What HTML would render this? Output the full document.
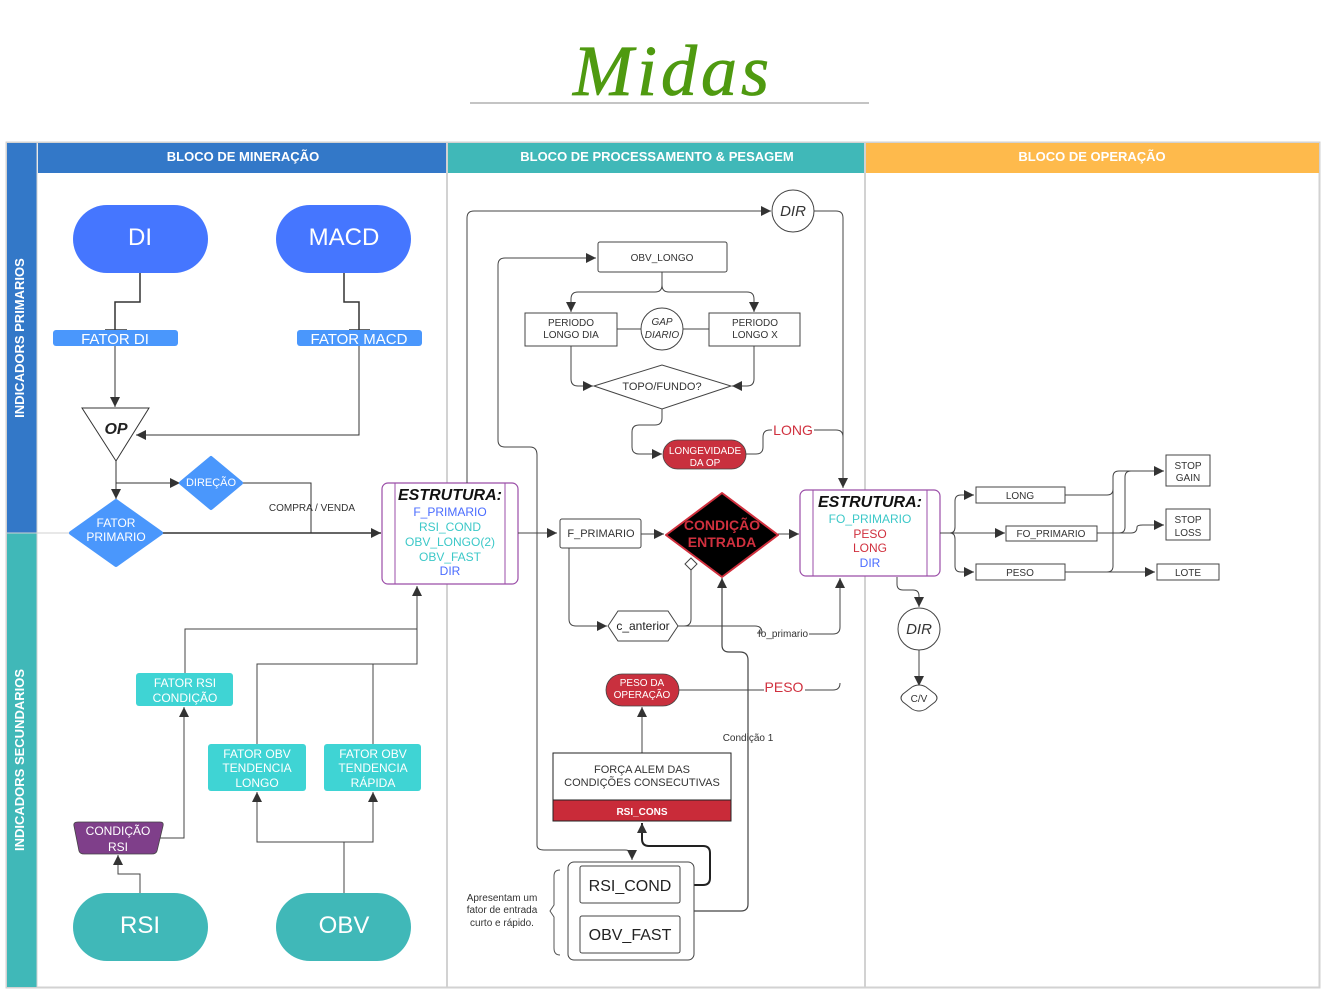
<!DOCTYPE html>
<html><head><meta charset="utf-8"><style>
html,body{margin:0;padding:0;background:#fff;}
svg{display:block;font-family:"Liberation Sans",sans-serif;}
</style></head><body>
<svg width="1327" height="996" viewBox="0 0 1327 996" xmlns="http://www.w3.org/2000/svg">
<defs>
<marker id="b" viewBox="0 0 10 10" refX="10" refY="5" markerWidth="12" markerHeight="10" orient="auto" markerUnits="userSpaceOnUse"><path d="M0,0L10,5L0,10z" fill="#333"/></marker>
</defs>
<!-- title -->
<text x="673" y="95" text-anchor="middle" font-family="Liberation Serif,serif" font-style="italic" font-size="72" fill="#4f9a10" stroke="#4f9a10" stroke-width="0.8" letter-spacing="4">Midas</text>
<line x1="470" y1="103" x2="869" y2="103" stroke="#c4c4c4" stroke-width="2"/>
<!-- frame -->
<rect x="6.5" y="142.5" width="1313" height="845" fill="#fff" stroke="#d2d2d2" stroke-width="2"/>
<rect x="7" y="143" width="30" height="390" fill="#3378c8"/>
<rect x="7" y="533" width="30" height="454" fill="#40b8b8"/>
<rect x="38" y="143" width="409" height="30" fill="#3378c8"/>
<rect x="448" y="143" width="417" height="30" fill="#40b8b8"/>
<rect x="866" y="143" width="453" height="30" fill="#feba4c"/>
<line x1="447" y1="143" x2="447" y2="987" stroke="#d2d2d2" stroke-width="2"/>
<line x1="865" y1="143" x2="865" y2="987" stroke="#d2d2d2" stroke-width="2"/>
<line x1="37" y1="143" x2="37" y2="987" stroke="#d2d2d2" stroke-width="1"/>
<line x1="7" y1="533" x2="200" y2="533" stroke="#d2d2d2" stroke-width="1"/>
<g font-weight="bold" font-size="13" fill="#fff" text-anchor="middle">
<text x="243" y="161">BLOCO DE MINERAÇÃO</text>
<text x="657" y="161">BLOCO DE PROCESSAMENTO &amp; PESAGEM</text>
<text x="1092" y="161">BLOCO DE OPERAÇÃO</text>
<text transform="translate(24,338) rotate(-90)">INDICADORS PRIMARIOS</text>
<text transform="translate(24,760) rotate(-90)">INDICADORS SECUNDARIOS</text>
</g>
<!-- left column -->
<g fill="none" stroke="#333" stroke-width="1.5">
<path d="M140,273V302H115V330M105,330H127"/>
<path d="M344,273V302H359V330M349,330H370"/>
</g>
<rect x="73" y="205" width="135" height="68" rx="34" fill="#4576ff"/>
<rect x="276" y="205" width="135" height="68" rx="34" fill="#4576ff"/>
<text x="140" y="245" text-anchor="middle" font-size="24" fill="#fff">DI</text>
<text x="344" y="245" text-anchor="middle" font-size="24" fill="#fff">MACD</text>
<rect x="53" y="330" width="125" height="16" rx="3" fill="#4a97fc"/>
<rect x="297" y="330" width="125" height="16" rx="3" fill="#4a97fc"/>
<text x="115" y="344" text-anchor="middle" font-size="15" fill="#fff">FATOR DI</text>
<text x="359" y="344" text-anchor="middle" font-size="15" fill="#fff">FATOR MACD</text>
<g fill="none" stroke="#333" stroke-width="1">
<path d="M115,346V407" marker-end="url(#b)"/>
<path d="M359,346V435H136" marker-end="url(#b)"/>
<path d="M116,461V499" marker-end="url(#b)"/>
<path d="M116,483H180" marker-end="url(#b)"/>
<path d="M241,483H311V533"/>
<path d="M162,533H381" marker-end="url(#b)" stroke-width="1.5"/>
</g>
<polygon points="82,408 149,408 116,461" fill="#fff" stroke="#333" stroke-width="1"/>
<text x="116" y="434" text-anchor="middle" font-size="16" font-weight="bold" font-style="italic" fill="#222">OP</text>
<polygon points="211,458 241,483 211,508 181,483" fill="#4a97fc" stroke="#4a97fc" stroke-linejoin="round" stroke-width="4"/>
<text x="211" y="486" text-anchor="middle" font-size="11" fill="#fff">DIREÇÃO</text>
<polygon points="116,501 161,533 116,565 71,533" fill="#4a97fc" stroke="#4a97fc" stroke-linejoin="round" stroke-width="4"/>
<text x="116" y="527" text-anchor="middle" font-size="12" fill="#fff">FATOR</text>
<text x="116" y="541" text-anchor="middle" font-size="12" fill="#fff">PRIMARIO</text>
<text x="312" y="511" text-anchor="middle" font-size="10" fill="#333">COMPRA / VENDA</text>
<!-- estrutura 1 -->
<rect x="382" y="483" width="136" height="101" rx="6" fill="#fff" stroke="#9b4ea8" stroke-width="1.2"/>
<line x1="395" y1="483" x2="395" y2="584" stroke="#9b4ea8"/>
<line x1="505" y1="483" x2="505" y2="584" stroke="#9b4ea8"/>
<text x="450" y="500" text-anchor="middle" font-size="16" font-weight="bold" font-style="italic" fill="#111">ESTRUTURA:</text>
<g font-size="12" text-anchor="middle">
<text x="450" y="516" fill="#4a6cff">F_PRIMARIO</text>
<text x="450" y="531" fill="#3cc8c8">RSI_COND</text>
<text x="450" y="546" fill="#3cc8c8">OBV_LONGO(2)</text>
<text x="450" y="561" fill="#3cc8c8">OBV_FAST</text>
<text x="450" y="575" fill="#4a6cff">DIR</text>
</g>
<!-- secondary -->
<g fill="none" stroke="#444" stroke-width="1">
<path d="M185,673V629H417V664M257,744V664H417V586" marker-end="url(#b)"/>
<path d="M373,744V664"/>
<path d="M160,838H184V707" marker-end="url(#b)"/>
<path d="M140,893V874H118V855" marker-end="url(#b)"/>
<path d="M344,893V842H257V792" marker-end="url(#b)"/>
<path d="M344,842H373V792" marker-end="url(#b)"/>
</g>
<rect x="136" y="673" width="97" height="33" rx="3" fill="#3fd4d4"/>
<text x="185" y="687" text-anchor="middle" font-size="12" fill="#fff">FATOR RSI</text>
<text x="185" y="702" text-anchor="middle" font-size="12" fill="#fff">CONDIÇÃO</text>
<rect x="208" y="744" width="98" height="47" rx="3" fill="#3fd4d4"/>
<rect x="324" y="744" width="97" height="47" rx="3" fill="#3fd4d4"/>
<g font-size="12" fill="#fff" text-anchor="middle">
<text x="257" y="758">FATOR OBV</text><text x="257" y="772">TENDENCIA</text><text x="257" y="787">LONGO</text>
<text x="373" y="758">FATOR OBV</text><text x="373" y="772">TENDENCIA</text><text x="373" y="787">RÁPIDA</text>
</g>
<path d="M78,822H160Q164,822 163,826L157,851Q156,854 152,854H84Q80,854 79,851L74,826Q73,822 78,822Z" fill="#7f3f8a" stroke="#444" stroke-width="0.8"/>
<text x="118" y="835" text-anchor="middle" font-size="12" fill="#fff">CONDIÇÃO</text>
<text x="118" y="851" text-anchor="middle" font-size="12" fill="#fff">RSI</text>
<rect x="73" y="893" width="135" height="68" rx="34" fill="#40b8b8"/>
<rect x="276" y="893" width="135" height="68" rx="34" fill="#40b8b8"/>
<text x="140" y="933" text-anchor="middle" font-size="24" fill="#fff">RSI</text>
<text x="344" y="933" text-anchor="middle" font-size="24" fill="#fff">OBV</text>
<!-- middle connectors -->
<g fill="none" stroke="#444" stroke-width="1">
<path d="M467,483V218Q467,211 474,211H771" marker-end="url(#b)"/>
<path d="M814,211H836Q843,211 843,218V488" marker-end="url(#b)"/>
<path d="M537,845V455Q537,447 530,447H505Q498,447 498,440V265Q498,258 505,258H596" marker-end="url(#b)"/>
<path d="M518,533H557" marker-end="url(#b)"/>
<path d="M537,845Q537,850 544,850H625Q632,850 632,857V860" marker-end="url(#b)"/>
<path d="M662,272V285Q662,292 655,292H578Q571,292 571,299V312" marker-end="url(#b)"/>
<path d="M662,285Q662,292 669,292H747Q754,292 754,299V312" marker-end="url(#b)"/>
<path d="M617,329H641M683,329H709"/>
<path d="M571,346V379Q571,386 578,386H593" marker-end="url(#b)"/>
<path d="M754,346V379Q754,386 747,386H732" marker-end="url(#b)"/>
<path d="M662,409V418Q662,425 655,425H639Q632,425 632,432V447Q632,454 639,454H662" marker-end="url(#b)"/>
<path d="M746,454H756Q763,454 763,447V437Q763,430 770,430H772M814,430H836Q843,430 843,437"/>
<path d="M641,534H664" marker-end="url(#b)"/>
<path d="M778,534H799" marker-end="url(#b)"/>
<path d="M569,548V619Q569,626 576,626H607" marker-end="url(#b)"/>
<path d="M691,570V619Q691,626 684,626H678"/>
<path d="M678,626H755Q762,626 762,633H757M809,634H833Q840,634 840,627V578" marker-end="url(#b)"/>
<path d="M679,690H764M805,690H833Q840,690 840,683"/>
<path d="M694,911H741Q748,911 748,904V660Q748,652 740,652H729Q722,652 722,645V578" marker-end="url(#b)" stroke-width="1.2"/>
<path d="M642,753V707" marker-end="url(#b)"/>
<path d="M680,885H703Q710,885 710,878V853Q710,846 703,846H649Q642,846 642,839V823" marker-end="url(#b)" stroke="#222" stroke-width="2"/>
</g>
<circle cx="793" cy="211" r="21" fill="#fff" stroke="#444"/>
<text x="793" y="216" text-anchor="middle" font-size="15" font-style="italic" fill="#333">DIR</text>
<rect x="598" y="242" width="129" height="30" rx="2" fill="#fff" stroke="#444"/>
<text x="662" y="261" text-anchor="middle" font-size="10" fill="#333">OBV_LONGO</text>
<rect x="525" y="313" width="92" height="33" fill="#fff" stroke="#444"/>
<rect x="709" y="313" width="91" height="33" fill="#fff" stroke="#444"/>
<g font-size="10" fill="#333" text-anchor="middle">
<text x="571" y="326">PERIODO</text><text x="571" y="338">LONGO DIA</text>
<text x="755" y="326">PERIODO</text><text x="755" y="338">LONGO X</text>
</g>
<circle cx="662" cy="329" r="21" fill="#fff" stroke="#444"/>
<text x="662" y="325" text-anchor="middle" font-size="10" font-style="italic" fill="#333">GAP</text>
<text x="662" y="338" text-anchor="middle" font-size="10" font-style="italic" fill="#333">DIARIO</text>
<polygon points="594,386 662,365 731,386 662,409" fill="#fff" stroke="#444"/>
<text x="662" y="390" text-anchor="middle" font-size="11" fill="#333">TOPO/FUNDO?</text>
<rect x="663" y="440" width="83" height="29" rx="14.5" fill="#c9303e" stroke="#444" stroke-width="0.8"/>
<text x="705" y="454" text-anchor="middle" font-size="10" fill="#fff">LONGEVIDADE</text>
<text x="705" y="466" text-anchor="middle" font-size="10" fill="#fff">DA OP</text>
<text x="793" y="435" text-anchor="middle" font-size="14" fill="#d0303e">LONG</text>
<rect x="560" y="519" width="81" height="29" rx="2" fill="#fff" stroke="#444"/>
<text x="601" y="537" text-anchor="middle" font-size="11" fill="#333">F_PRIMARIO</text>
<polygon points="722,493 778,535 722,577 666,535" fill="#000" stroke="#d0303e" stroke-width="2" stroke-linejoin="round"/>
<text x="722" y="530" text-anchor="middle" font-size="14" font-weight="bold" fill="#d0303e">CONDIÇÃO</text>
<text x="722" y="547" text-anchor="middle" font-size="14" font-weight="bold" fill="#d0303e">ENTRADA</text>
<polygon points="691,558 697,564 691,570 685,564" fill="#fff" stroke="#444"/>
<path d="M608,626L618,611H668L678,626L668,641H618Z" fill="#fff" stroke="#444"/>
<text x="643" y="630" text-anchor="middle" font-size="12" fill="#222">c_anterior</text>
<text x="783" y="637" text-anchor="middle" font-size="10" fill="#333">fo_primario</text>
<rect x="606" y="674" width="73" height="32" rx="16" fill="#c9303e" stroke="#444" stroke-width="0.8"/>
<text x="642" y="686" text-anchor="middle" font-size="10" fill="#fff">PESO DA</text>
<text x="642" y="698" text-anchor="middle" font-size="10" fill="#fff">OPERAÇÃO</text>
<text x="784" y="692" text-anchor="middle" font-size="14" fill="#d0303e">PESO</text>
<text x="748" y="741" text-anchor="middle" font-size="10" fill="#333">Condição 1</text>
<rect x="553" y="753" width="178" height="47" fill="#fff" stroke="#222"/>
<rect x="553" y="800" width="178" height="21" fill="#c92b39" stroke="#222"/>
<text x="642" y="773" text-anchor="middle" font-size="11" fill="#333">FORÇA ALEM DAS</text>
<text x="642" y="786" text-anchor="middle" font-size="11" fill="#333">CONDIÇÕES CONSECUTIVAS</text>
<text x="642" y="815" text-anchor="middle" font-size="10" font-weight="bold" fill="#fff">RSI_CONS</text>
<rect x="568" y="862" width="126" height="98" rx="6" fill="#fff" stroke="#444"/>
<rect x="580" y="866" width="100" height="37" rx="2" fill="#fff" stroke="#444"/>
<rect x="580" y="916" width="100" height="37" rx="2" fill="#fff" stroke="#444"/>
<text x="630" y="891" text-anchor="middle" font-size="16" fill="#222">RSI_COND</text>
<text x="630" y="940" text-anchor="middle" font-size="16" fill="#222">OBV_FAST</text>
<path d="M560,870Q554,870 554,876V905L550,911L554,917V948Q554,955 560,955" fill="none" stroke="#555"/>
<g font-size="10" fill="#333" text-anchor="middle">
<text x="502" y="901">Apresentam um</text><text x="502" y="913">fator de entrada</text><text x="502" y="926">curto e rápido.</text>
</g>
<!-- estrutura 2 -->
<rect x="800" y="490" width="140" height="86" rx="6" fill="#fff" stroke="#9b4ea8" stroke-width="1.2"/>
<line x1="813" y1="490" x2="813" y2="576" stroke="#9b4ea8"/>
<line x1="927" y1="490" x2="927" y2="576" stroke="#9b4ea8"/>
<text x="870" y="507" text-anchor="middle" font-size="16" font-weight="bold" font-style="italic" fill="#111">ESTRUTURA:</text>
<g font-size="12" text-anchor="middle">
<text x="870" y="523" fill="#3cc8c8">FO_PRIMARIO</text>
<text x="870" y="538" fill="#d0303e">PESO</text>
<text x="870" y="552" fill="#d0303e">LONG</text>
<text x="870" y="567" fill="#4a6cff">DIR</text>
</g>
<!-- right connectors -->
<g fill="none" stroke="#444" stroke-width="1">
<path d="M940,533H1005" marker-end="url(#b)"/>
<path d="M950,533Q955,533 955,527V501Q955,495 961,495H974" marker-end="url(#b)"/>
<path d="M950,533Q955,533 955,539V566Q955,572 961,572H974" marker-end="url(#b)"/>
<path d="M1065,495H1107Q1113,495 1113,489V477Q1113,471 1119,471H1164" marker-end="url(#b)"/>
<path d="M1065,572H1107Q1113,572 1113,566V485"/>
<path d="M1065,572H1155" marker-end="url(#b)"/>
<path d="M1097,533H1119Q1125,533 1125,527V477Q1125,471 1131,471"/>
<path d="M1097,533H1131Q1137,533 1137,527Q1137,525 1143,525H1164" marker-end="url(#b)"/>
<path d="M897,577V584Q897,590 903,590H913Q919,590 919,596V607" marker-end="url(#b)"/>
<path d="M919,650V686" marker-end="url(#b)"/>
</g>
<rect x="976" y="487" width="89" height="16" fill="#fff" stroke="#444"/>
<rect x="1006" y="526" width="91" height="15" fill="#fff" stroke="#444"/>
<rect x="976" y="564" width="89" height="16" fill="#fff" stroke="#444"/>
<rect x="1166" y="455" width="44" height="31" fill="#fff" stroke="#444"/>
<rect x="1166" y="509" width="44" height="31" fill="#fff" stroke="#444"/>
<rect x="1157" y="564" width="62" height="16" fill="#fff" stroke="#444"/>
<g font-size="10" fill="#333" text-anchor="middle">
<text x="1020" y="499">LONG</text>
<text x="1051" y="537">FO_PRIMARIO</text>
<text x="1020" y="576">PESO</text>
<text x="1188" y="469">STOP</text><text x="1188" y="481">GAIN</text>
<text x="1188" y="523">STOP</text><text x="1188" y="536">LOSS</text>
<text x="1188" y="576">LOTE</text>
</g>
<circle cx="919" cy="629" r="21" fill="#fff" stroke="#444"/>
<text x="919" y="634" text-anchor="middle" font-size="15" font-style="italic" fill="#333">DIR</text>
<path d="M912,687Q919,683 926,687L935,694Q939,698 935,702L926,709Q919,713 912,709L903,702Q899,698 903,694Z" fill="#fff" stroke="#444"/>
<text x="919" y="702" text-anchor="middle" font-size="10" fill="#333">C/V</text>
</svg>
</body></html>
